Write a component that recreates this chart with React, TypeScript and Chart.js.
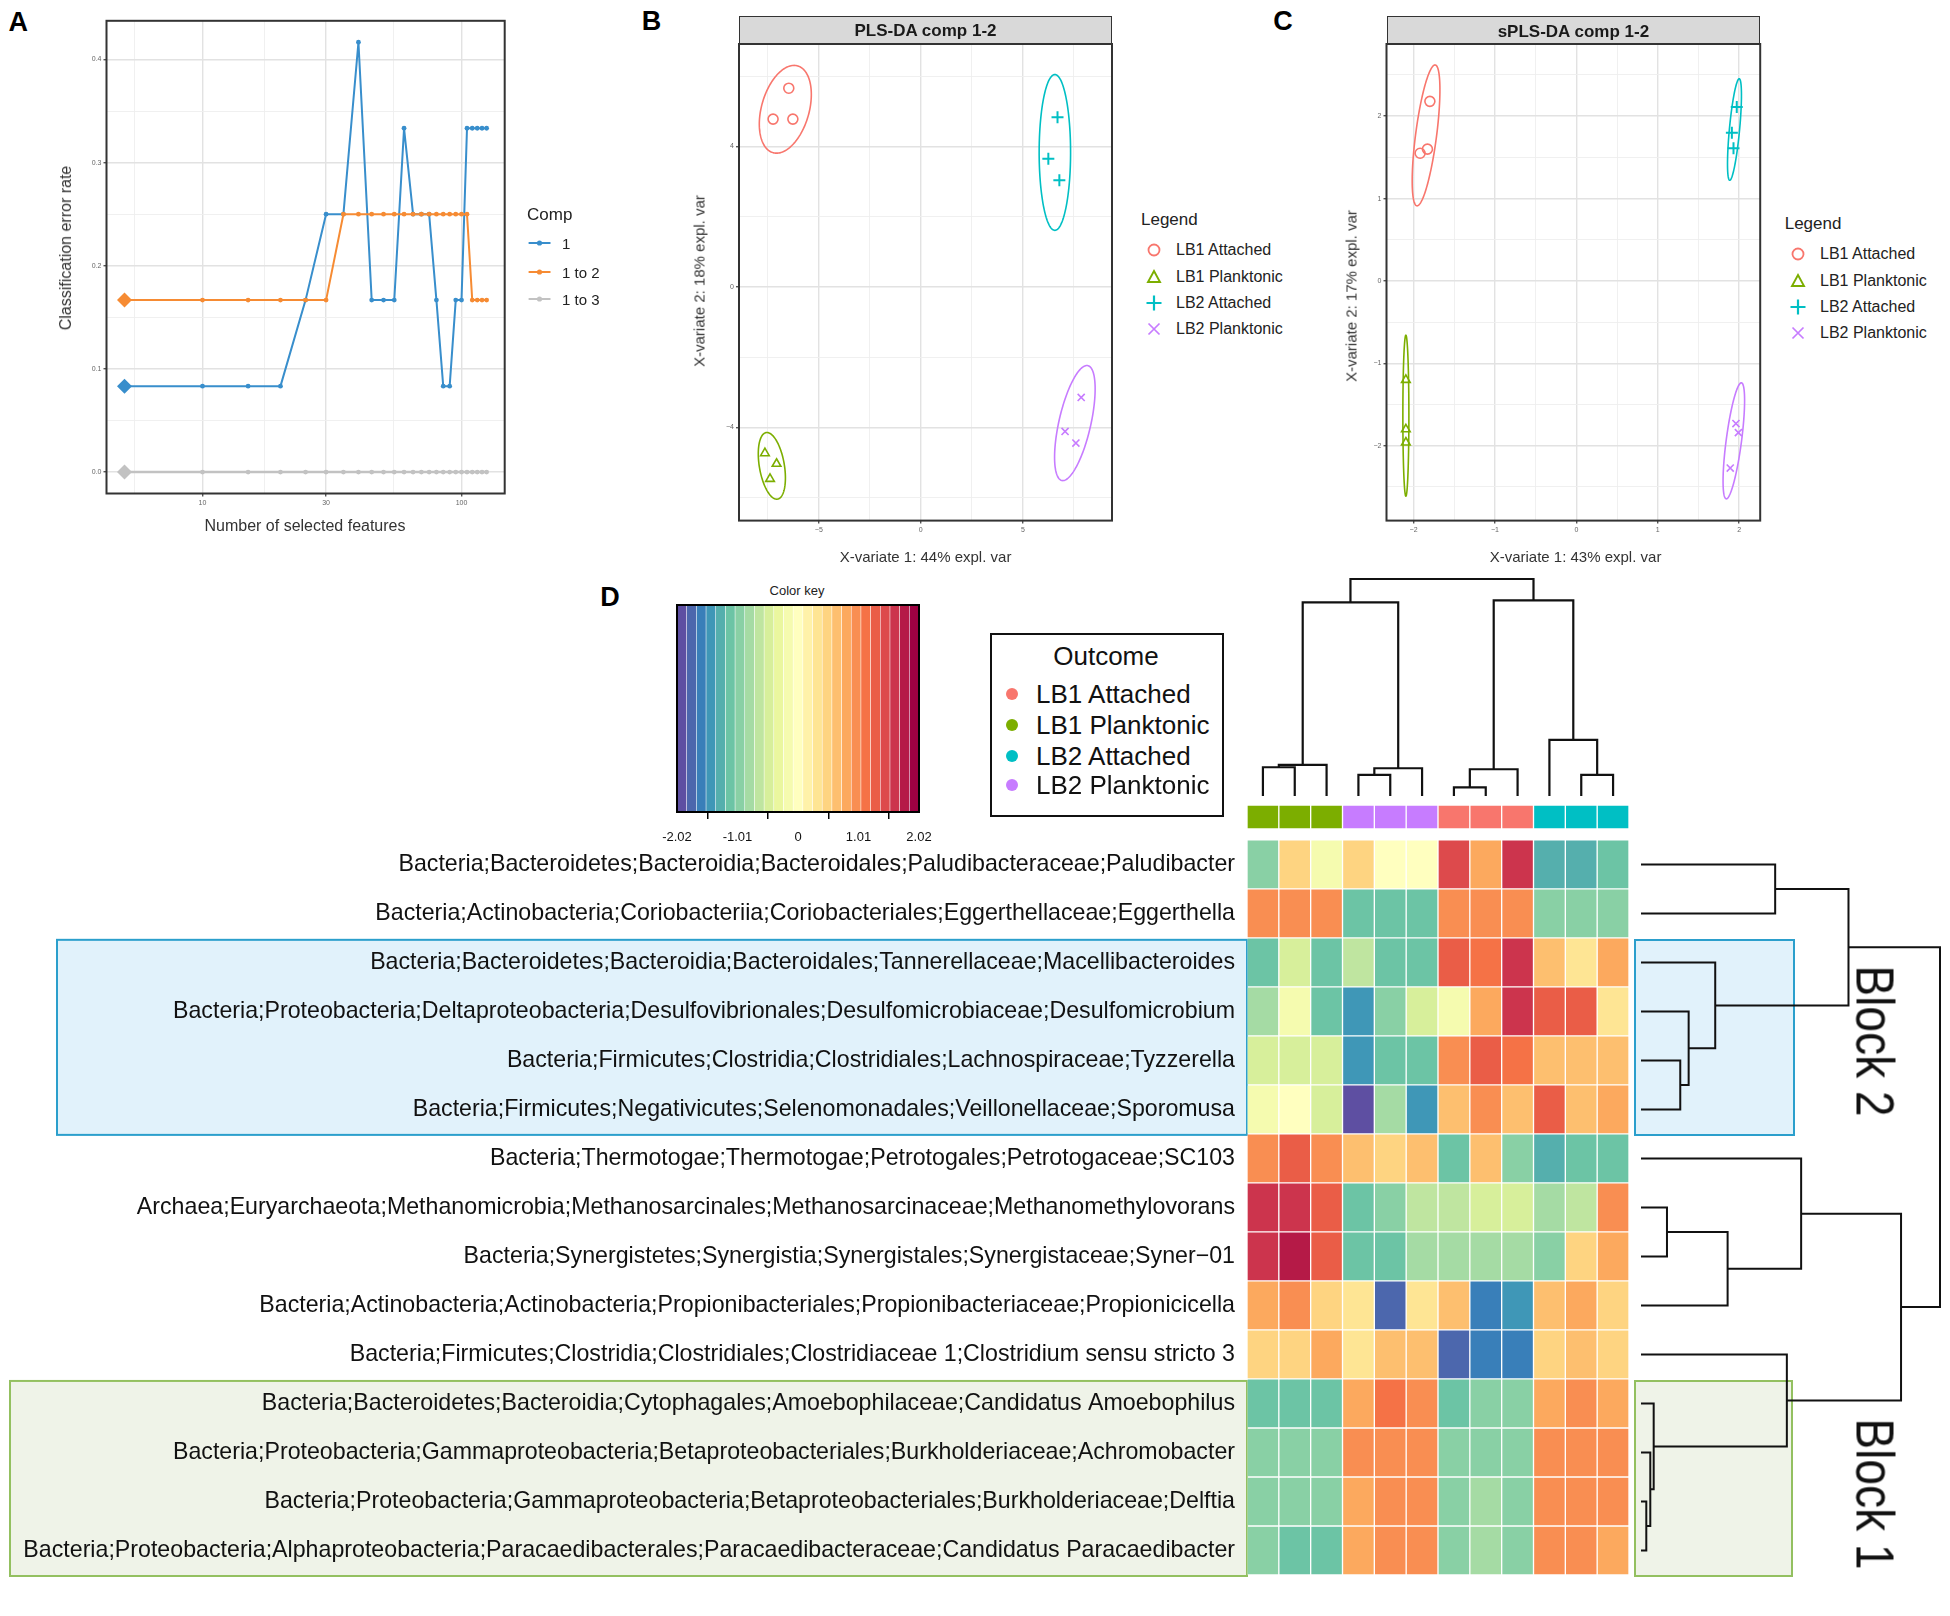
import React, { useEffect, useRef } from 'react';
import { Chart, registerables } from 'chart.js';
Chart.register(...registerables);

const FONT = '"Liberation Sans", Arial, Helvetica, sans-serif';

// ---------------- Panel A data ----------------
const keepX = [5, 10, 15, 20, 25, 30, 35, 40, 45, 50, 55, 60, 65, 70, 75, 80, 85, 90, 95, 100, 105, 110, 115, 120, 125];
const errorComp1 = [0.0833, 0.0833, 0.0833, 0.0833, 0.1667, 0.25, 0.25, 0.4167, 0.1667, 0.1667, 0.1667, 0.3333, 0.25, 0.25, 0.25, 0.1667, 0.0833, 0.0833, 0.1667, 0.1667, 0.3333, 0.3333, 0.3333, 0.3333, 0.3333];
const errorComp1to2 = [0.1667, 0.1667, 0.1667, 0.1667, 0.1667, 0.1667, 0.25, 0.25, 0.25, 0.25, 0.25, 0.25, 0.25, 0.25, 0.25, 0.25, 0.25, 0.25, 0.25, 0.25, 0.25, 0.1667, 0.1667, 0.1667, 0.1667];
const errorComp1to3 = [0, 0, 0, 0, 0, 0, 0, 0, 0, 0, 0, 0, 0, 0, 0, 0, 0, 0, 0, 0, 0, 0, 0, 0, 0];
const optimalKeepX = [5, 5, 5];
const compLabels = ['1', '1 to 2', '1 to 3'];
const compColors = ['#388ECC', '#F68B33', '#C2C2C2'];
const aXMajor = [10, 30, 100];
const aXMinor = [5.477, 17.32, 54.77];
const aYMajor = [0, 0.1, 0.2, 0.3, 0.4];
const aYMinor = [0.05, 0.15, 0.25, 0.35];
const aXLimits = [4.26, 146.8];
const aYLimits = [-0.0208, 0.4375];

// ---------------- Panels B / C data ----------------
const groups = ['LB1 Attached', 'LB1 Planktonic', 'LB2 Attached', 'LB2 Planktonic'];
const groupColors = ['#F8766D', '#7CAE00', '#00BFC4', '#C77CFF'];
const groupShapes = ['circle', 'triangle', 'cross', 'crossRot'];

const plsX = [[-6.47, -7.24, -6.27], [-7.64, -7.07, -7.39], [6.70, 6.25, 6.79], [7.86, 7.07, 7.60]];
const plsY = [[5.66, 4.78, 4.78], [-4.74, -5.04, -5.47], [4.83, 3.65, 3.04], [-3.15, -4.12, -4.45]];
// ellipse: centre x, centre y, major half-vector x, y, horizontal half-width
const plsEllipses = [[-6.64, 5.06, 0.43, 1.25, 1.2], [-7.3, -5.1, -0.24, 0.95, 0.62], [6.57, 3.83, 0, 2.22, 0.77], [7.55, -3.88, 0.59, 1.64, 0.8]];
const plsXLimits = [-8.91, 9.37];
const plsYLimits = [-6.66, 6.92];
const plsXMajor = [-5, 0, 5];
const plsXMinor = [-7.5, -2.5, 2.5, 7.5];
const plsYMajor = [-4, 0, 4];
const plsYMinor = [-6, -2, 2, 6];

const splsX = [[-1.80, -1.92, -1.83], [-2.095, -2.095, -2.095], [1.97, 1.91, 1.93], [1.96, 1.99, 1.89]];
const splsY = [[2.18, 1.55, 1.60], [-1.20, -1.80, -1.96], [2.11, 1.80, 1.61], [-1.73, -1.84, -2.27]];
const splsEllipses = [[-1.847, 1.767, 0.11, 0.855, 0.13], [-2.095, -1.635, 0, 0.977, 0.037], [1.942, 1.838, 0.058, 0.616, 0.063], [1.934, -1.94, 0.092, 0.704, 0.095]];
const splsXLimits = [-2.333, 2.258];
const splsYLimits = [-2.908, 2.876];
const splsXMajor = [-2, -1, 0, 1, 2];
const splsXMinor = [-1.5, -0.5, 0.5, 1.5];
const splsYMajor = [-2, -1, 0, 1, 2];
const splsYMinor = [-2.5, -1.5, -0.5, 0.5, 1.5, 2.5];

// ---------------- Panel D data ----------------
const rowLabels = [
  'Bacteria;Bacteroidetes;Bacteroidia;Bacteroidales;Paludibacteraceae;Paludibacter',
  'Bacteria;Actinobacteria;Coriobacteriia;Coriobacteriales;Eggerthellaceae;Eggerthella',
  'Bacteria;Bacteroidetes;Bacteroidia;Bacteroidales;Tannerellaceae;Macellibacteroides',
  'Bacteria;Proteobacteria;Deltaproteobacteria;Desulfovibrionales;Desulfomicrobiaceae;Desulfomicrobium',
  'Bacteria;Firmicutes;Clostridia;Clostridiales;Lachnospiraceae;Tyzzerella',
  'Bacteria;Firmicutes;Negativicutes;Selenomonadales;Veillonellaceae;Sporomusa',
  'Bacteria;Thermotogae;Thermotogae;Petrotogales;Petrotogaceae;SC103',
  'Archaea;Euryarchaeota;Methanomicrobia;Methanosarcinales;Methanosarcinaceae;Methanomethylovorans',
  'Bacteria;Synergistetes;Synergistia;Synergistales;Synergistaceae;Syner\u221201',
  'Bacteria;Actinobacteria;Actinobacteria;Propionibacteriales;Propionibacteriaceae;Propionicicella',
  'Bacteria;Firmicutes;Clostridia;Clostridiales;Clostridiaceae 1;Clostridium sensu stricto 3',
  'Bacteria;Bacteroidetes;Bacteroidia;Cytophagales;Amoebophilaceae;Candidatus Amoebophilus',
  'Bacteria;Proteobacteria;Gammaproteobacteria;Betaproteobacteriales;Burkholderiaceae;Achromobacter',
  'Bacteria;Proteobacteria;Gammaproteobacteria;Betaproteobacteriales;Burkholderiaceae;Delftia',
  'Bacteria;Proteobacteria;Alphaproteobacteria;Paracaedibacterales;Paracaedibacteraceae;Candidatus Paracaedibacter',
];
const sampleNames = ['LB1P_1', 'LB1P_2', 'LB1P_3', 'LB2P_1', 'LB2P_2', 'LB2P_3', 'LB1A_1', 'LB1A_2', 'LB1A_3', 'LB2A_1', 'LB2A_2', 'LB2A_3'];
const sampleGroup = [1, 1, 1, 3, 3, 3, 0, 0, 0, 2, 2, 2];
const heatValues = [
  [-1.0, 0.45, -0.15, 0.5, 0.05, 0.05, 1.45, 0.75, 1.62, -1.3, -1.3, -1.15],
  [1.05, 1.05, 1.05, -1.1, -1.1, -1.1, 1.0, 1.0, 1.0, -1.05, -1.05, -1.05],
  [-1.15, -0.5, -1.1, -0.65, -1.2, -1.2, 1.35, 1.2, 1.58, 0.7, 0.25, 0.85],
  [-0.75, -0.2, -1.15, -1.45, -1.0, -0.45, -0.1, 0.85, 1.58, 1.25, 1.25, 0.4],
  [-0.5, -0.5, -0.5, -1.45, -1.2, -1.18, 1.0, 1.35, 1.2, 0.72, 0.72, 0.72],
  [-0.18, 0.0, -0.48, -1.98, -0.85, -1.5, 0.7, 1.02, 0.68, 1.22, 0.72, 0.82],
  [1.0, 1.24, 0.98, 0.68, 0.55, 0.7, -1.18, 0.65, -1.05, -1.3, -1.2, -1.2],
  [1.55, 1.68, 1.35, -1.1, -0.9, -0.72, -0.7, -0.52, -0.55, -0.78, -0.72, 1.0],
  [1.6, 1.7, 1.22, -1.1, -1.1, -0.88, -0.88, -0.78, -0.78, -0.9, 0.52, 0.85],
  [0.85, 1.0, 0.5, 0.38, -1.75, 0.4, 0.6, -1.65, -1.5, 0.62, 0.78, 0.55],
  [0.5, 0.5, 0.75, 0.35, 0.7, 0.72, -1.85, -1.68, -1.68, 0.55, 0.6, 0.48],
  [-1.2, -1.2, -1.2, 0.88, 1.2, 1.0, -1.1, -0.92, -0.98, 0.82, 1.0, 0.85],
  [-1.05, -1.05, -1.05, 1.0, 0.98, 1.0, -1.05, -1.05, -0.95, 1.0, 1.0, 1.0],
  [-1.0, -1.0, -1.0, 0.88, 0.98, 1.0, -1.05, -0.88, -0.92, 1.0, 1.0, 1.0],
  [-0.98, -1.2, -1.2, 0.85, 1.0, 0.98, -1.05, -0.86, -0.95, 1.0, 1.0, 0.8],
];
// hclust-like merges: negative = leaf (display order, 1-based), positive = earlier merge
const colMerges = [
  [-1, -2, 2.87], [1, -3, 3.10], [-4, -5, 2.10], [3, -6, 2.77], [2, 4, 19.33],
  [-7, -8, 0.87], [6, -9, 2.67], [-11, -12, 2.10], [-10, 8, 5.60], [7, 9, 19.53], [5, 10, 21.67],
];
const rowMerges = [
  [-1, -2, 13.43], [-5, -6, 3.93], [-4, 2, 4.77], [-3, 3, 7.43], [1, 4, 20.77],
  [-8, -9, 2.60], [6, -10, 8.67], [-7, 7, 16.03],
  [-14, -15, 0.53], [-13, 9, 0.93], [-12, 10, 1.27], [-11, 11, 14.60],
  [8, 12, 26.03], [5, 13, 29.93],
];
const blockNames = ['Block 2', 'Block 1'];
const blockRows = [[3, 6], [12, 15]];
const keyRange = [-2.02, 2.02];
const keyTicks = [-2.02, -1.01, 0, 1.01, 2.02];
const keyBins = 25;
const spectral = ['#5E4FA2', '#3288BD', '#66C2A5', '#ABDDA4', '#E6F598', '#FFFFBF', '#FEE08B', '#FDAE61', '#F46D43', '#D53E4F', '#9E0142'];

// ---------------- helpers ----------------
function hex(c: string) { return [1, 3, 5].map(i => parseInt(c.slice(i, i + 2), 16)); }
function ramp(t: number) {
  const p = Math.max(0, Math.min(1, t)) * (spectral.length - 1);
  const i = Math.min(spectral.length - 2, Math.floor(p));
  const f = p - i;
  const a = hex(spectral[i]), b = hex(spectral[i + 1]);
  const m = a.map((v, k) => Math.round(v + (b[k] - v) * f));
  return `rgb(${m[0]},${m[1]},${m[2]})`;
}
const keyColors = Array.from({ length: keyBins }, (_, i) => ramp(i / (keyBins - 1)));
function colorFor(v: number) {
  let b = Math.floor(((v - keyRange[0]) / (keyRange[1] - keyRange[0])) * keyBins);
  b = Math.max(0, Math.min(keyBins - 1, b));
  return keyColors[b];
}
const isIn = (arr: number[], v: any) => typeof v === 'number' && arr.some(a => Math.abs(a - v) < 1e-6);
const zeroPad = (s: any) => { s.paddingTop = 0; s.paddingBottom = 0; s.paddingLeft = 0; s.paddingRight = 0; };

function ggScale(type: string, lim: number[], major: number[], minor: number[], fit: { w?: number; h?: number }, fmt: (v: number) => string) {
  return {
    type, min: lim[0], max: lim[1],
    afterBuildTicks: (s: any) => { s.ticks = [...minor, ...major].sort((a, b) => a - b).map(v => ({ value: v })); },
    afterFit: (s: any) => { if (fit.w !== undefined) s.width = fit.w; if (fit.h !== undefined) s.height = fit.h; zeroPad(s); },
    ticks: {
      autoSkip: false, maxRotation: 0, minRotation: 0, padding: 2, color: '#666',
      font: { family: FONT, size: 7 },
      callback: (v: any) => (isIn(major, Number(v)) ? fmt(Number(v)) : ''),
    },
    grid: {
      drawTicks: true, tickLength: 3,
      color: (c: any) => (isIn(major, c.tick && c.tick.value) ? '#e2e2e2' : '#eeeeee'),
      lineWidth: (c: any) => (isIn(major, c.tick && c.tick.value) ? 1.4 : 0.9),
      tickColor: (c: any) => (isIn(major, c.tick && c.tick.value) ? '#555' : 'rgba(0,0,0,0)'),
    },
    border: { display: false },
  };
}

const framePlugin = {
  id: 'frame',
  afterDraw(chart: any, _a: any, opts: any) {
    if (!opts || !opts.color) return;
    const { ctx, chartArea: a } = chart;
    ctx.save();
    ctx.strokeStyle = opts.color; ctx.lineWidth = opts.width || 1;
    ctx.strokeRect(a.left, a.top, a.right - a.left, a.bottom - a.top);
    ctx.restore();
  },
};

const ellipsePlugin = {
  id: 'ellipses',
  beforeDatasetsDraw(chart: any, _a: any, opts: any) {
    const list = opts && opts.items; if (!list) return;
    const { ctx } = chart; const x = chart.scales.x, y = chart.scales.y;
    ctx.save();
    list.forEach((e: any) => {
      ctx.beginPath();
      for (let k = 0; k <= 160; k++) {
        const t = (k / 160) * Math.PI * 2;
        const dx = e.v[0] + e.v[2] * Math.cos(t) + e.v[4] * Math.sin(t);
        const dy = e.v[1] + e.v[3] * Math.cos(t);
        const px = x.getPixelForValue(dx), py = y.getPixelForValue(dy);
        if (k === 0) ctx.moveTo(px, py); else ctx.lineTo(px, py);
      }
      ctx.closePath(); ctx.strokeStyle = e.color; ctx.lineWidth = 1.6; ctx.stroke();
    });
    ctx.restore();
  },
};

const blockPlugin = {
  id: 'blocks',
  beforeDraw(chart: any, _a: any, opts: any) {
    const list = opts && opts.items; if (!list) return;
    const { ctx } = chart; const y = chart.scales.y;
    ctx.save();
    list.forEach((b: any) => {
      const top = y.getPixelForValue(b.rows[0] - 1) + 2;
      const bot = y.getPixelForValue(b.rows[1]) + 1;
      ctx.fillStyle = b.fill; ctx.fillRect(b.x0, top, b.x1 - b.x0, bot - top);
      ctx.strokeStyle = b.stroke; ctx.lineWidth = 2; ctx.strokeRect(b.x0, top, b.x1 - b.x0, bot - top);
    });
    ctx.restore();
  },
};

function dendroPaths(merges: number[][]) {
  const pos: number[] = [], hgt: number[] = [];
  const get = (id: number) => (id < 0 ? [-id - 1, 0] : [pos[id - 1], hgt[id - 1]]);
  return merges.map(([a, b, h], k) => {
    const [pa, ha] = get(a), [pb, hb] = get(b);
    pos[k] = (pa + pb) / 2; hgt[k] = h;
    return [[pa, ha], [pa, h], [pb, h], [pb, hb]];
  });
}

const BLOCK_STYLE = [
  { fill: '#e1f2fb', stroke: '#2b9fcc' },
  { fill: '#eff3e8', stroke: '#93c060' },
];

type TP = { x: number; y: number; s: number; text: string; bold?: boolean; rot?: number; left?: boolean; color?: string; sx?: number };
function T(p: TP) {
  return (
    <div style={{
      position: 'absolute', left: p.x, top: p.y, fontFamily: FONT, fontSize: p.s,
      fontWeight: p.bold ? 'bold' : 'normal', color: p.color || '#111', whiteSpace: 'nowrap', lineHeight: 1,
      transform: `translate(${p.left ? '0' : '-50%'},-50%) rotate(${p.rot || 0}deg) scaleX(${p.sx || 1})`,
      transformOrigin: p.left ? '0 50%' : '50% 50%',
    }}>{p.text}</div>
  );
}

function Marker({ shape, color, x, y }: { shape: string; color: string; x: number; y: number }) {
  const s = 16;
  return (
    <svg style={{ position: 'absolute', left: x - s / 2, top: y - s / 2 }} width={s} height={s}>
      {shape === 'circle' && <circle cx={8} cy={8} r={5.5} fill="none" stroke={color} strokeWidth={1.8} />}
      {shape === 'triangle' && <polygon points="8,2 14,13 2,13" fill="none" stroke={color} strokeWidth={1.9} />}
      {shape === 'cross' && <path d="M8 0.5 V15.5 M0.5 8 H15.5" stroke={color} strokeWidth={2.2} />}
      {shape === 'crossRot' && <path d="M2.5 2.5 L13.5 13.5 M13.5 2.5 L2.5 13.5" stroke={color} strokeWidth={1.7} />}
    </svg>
  );
}

const BOXES: Record<string, number[]> = {
  a: [40, 0, 490, 560],
  b: [700, 30, 430, 530],
  c: [1350, 30, 430, 530],
  key: [660, 600, 280, 260],
  colD: [1240, 570, 400, 235],
  heat: [0, 790, 1640, 800],
  rowD: [1630, 830, 320, 760],
};

export default function App() {
  const refs: Record<string, React.RefObject<HTMLCanvasElement>> = {
    a: useRef<HTMLCanvasElement>(null), b: useRef<HTMLCanvasElement>(null), c: useRef<HTMLCanvasElement>(null),
    key: useRef<HTMLCanvasElement>(null), colD: useRef<HTMLCanvasElement>(null), heat: useRef<HTMLCanvasElement>(null),
    rowD: useRef<HTMLCanvasElement>(null),
  };

  useEffect(() => {
    const charts: Chart[] = [];
    const base = { responsive: false, animation: false as const, events: [] as any[] };
    const noPlug = { legend: { display: false }, tooltip: { enabled: false } };

    // ---------- Panel A ----------
    const aSeries = [errorComp1, errorComp1to2, errorComp1to3];
    charts.push(new Chart(refs.a.current!, {
      type: 'scatter',
      data: {
        datasets: aSeries.map((vals, k) => ({
          label: compLabels[k],
          data: keepX.map((x, i) => ({ x, y: vals[i] })),
          showLine: true, borderColor: compColors[k], backgroundColor: compColors[k],
          borderWidth: k === 2 ? 2.4 : 2, pointBorderWidth: 0,
          pointStyle: (c: any) => (keepX[c.dataIndex] === optimalKeepX[k] ? 'rectRot' : 'circle'),
          pointRadius: (c: any) => (keepX[c.dataIndex] === optimalKeepX[k] ? 7.5 : 2.4),
          order: k === 0 ? 1 : k === 1 ? 0 : 2, clip: false,
        })),
      } as any,
      options: {
        ...base,
        layout: { padding: { top: 20.8, right: 25.3, left: 0, bottom: 0 } },
        plugins: { ...noPlug, frame: { color: '#333', width: 2 } } as any,
        scales: {
          x: ggScale('logarithmic', aXLimits, aXMajor, aXMinor, { h: 66.5 }, v => String(Math.round(v))) as any,
          y: ggScale('linear', aYLimits, aYMajor, aYMinor, { w: 66.5 }, v => v.toFixed(1)) as any,
        },
      },
      plugins: [framePlugin],
    }));

    // ---------- Panels B & C ----------
    const scatterCfg = (xs: number[][], ys: number[][], ells: number[][], xl: number[], yl: number[], xM: number[], xm: number[], yM: number[], ym: number[], yw: number, pr: number) => ({
      type: 'scatter',
      data: {
        datasets: groups.map((g, i) => ({
          label: g, data: xs[i].map((x, j) => ({ x, y: ys[i][j] })),
          pointStyle: groupShapes[i], pointRadius: i === 2 ? 6 : 5, pointBorderWidth: i === 2 ? 2 : 1.6,
          borderColor: groupColors[i], backgroundColor: 'rgba(0,0,0,0)', showLine: false,
        })),
      },
      options: {
        ...base,
        layout: { padding: { top: 14, right: pr, left: 0, bottom: 0 } },
        plugins: { ...noPlug, frame: { color: '#333', width: 2 }, ellipses: { items: ells.map((v, i) => ({ v, color: groupColors[i] })) } },
        scales: {
          x: ggScale('linear', xl, xM, xm, { h: 39.4 }, v => (v < 0 ? '\u2212' + Math.abs(v) : String(v))),
          y: ggScale('linear', yl, yM, ym, { w: yw }, v => (v < 0 ? '\u2212' + Math.abs(v) : String(v))),
        },
      },
      plugins: [framePlugin, ellipsePlugin],
    });
    charts.push(new Chart(refs.b.current!, scatterCfg(plsX, plsY, plsEllipses, plsXLimits, plsYLimits, plsXMajor, plsXMinor, plsYMajor, plsYMinor, 39, 18) as any));
    charts.push(new Chart(refs.c.current!, scatterCfg(splsX, splsY, splsEllipses, splsXLimits, splsYLimits, splsXMajor, splsXMinor, splsYMajor, splsYMinor, 36.5, 19.8) as any));

    // ---------- Colour key ----------
    const binW = (keyRange[1] - keyRange[0]) / keyBins;
    charts.push(new Chart(refs.key.current!, {
      type: 'bar',
      data: {
        datasets: [{
          data: keyColors.map((_, i) => ({ x: keyRange[0] + (i + 0.5) * binW, y: 1 })),
          backgroundColor: keyColors, barPercentage: 1, categoryPercentage: 1,
          borderColor: 'rgba(255,255,255,0.28)', borderWidth: { left: 0.6, right: 0.6, top: 0, bottom: 0 }, borderSkipped: false,
        }],
      } as any,
      options: {
        ...base,
        layout: { padding: { top: 5, left: 17, right: 21, bottom: 0 } },
        plugins: { ...noPlug, frame: { color: '#000', width: 2 } } as any,
        scales: {
          x: {
            type: 'linear', min: keyRange[0], max: keyRange[1], offset: false,
            afterBuildTicks: (s: any) => { s.ticks = keyTicks.map(v => ({ value: v })); },
            afterFit: (s: any) => { s.height = 48; zeroPad(s); },
            ticks: { autoSkip: false, maxRotation: 0, padding: 11, color: '#111', font: { family: FONT, size: 13 }, callback: (v: any) => (Number(v) === 0 ? '0' : Number(v).toFixed(2)) },
            grid: { drawOnChartArea: false, drawTicks: true, tickLength: 7, color: '#000', lineWidth: 1.5 },
            border: { display: true, color: '#000', width: 1.5 },
          },
          y: { display: false, min: 0, max: 1 },
        },
      },
      plugins: [framePlugin],
    }));

    // ---------- Column dendrogram ----------
    charts.push(new Chart(refs.colD.current!, {
      type: 'scatter',
      data: {
        datasets: dendroPaths(colMerges).map(path => ({
          data: path.map(([p, h]) => ({ x: p, y: h })), showLine: true, borderColor: '#111', borderWidth: 2.2,
          pointRadius: 0, clip: false,
        })),
      } as any,
      options: {
        ...base,
        layout: { padding: { top: 9, left: 7, right: 11, bottom: 9 } },
        plugins: noPlug as any,
        scales: { x: { display: false, min: -0.5, max: 11.5 }, y: { display: false, min: 0, max: colMerges[colMerges.length - 1][2] } },
      },
    }));

    // ---------- Heatmap + colour bar + row labels ----------
    const barBase = { barPercentage: 1, categoryPercentage: 1, grouped: false, borderSkipped: false, borderColor: 'rgba(255,255,255,0.3)', borderWidth: 1 };
    charts.push(new Chart(refs.heat.current!, {
      type: 'bar',
      data: {
        labels: sampleNames,
        datasets: [
          { ...barBase, data: sampleNames.map(() => [-0.71, -0.22]), backgroundColor: sampleGroup.map(g => groupColors[g]) },
          ...heatValues.map((row, r) => ({ ...barBase, label: rowLabels[r], data: row.map(() => [r, r + 1]), backgroundColor: row.map(colorFor) })),
        ],
      } as any,
      options: {
        ...base,
        layout: { padding: { top: 15, right: 11, left: 0, bottom: 15 } },
        plugins: {
          ...noPlug,
          blocks: {
            items: [
              { rows: blockRows[0], x0: 57, x1: 1247, ...BLOCK_STYLE[0] },
              { rows: blockRows[1], x0: 10, x1: 1247, ...BLOCK_STYLE[1] },
            ],
          },
        } as any,
        scales: {
          x: { display: false, type: 'category' },
          y: {
            type: 'linear', reverse: true, min: -0.71, max: rowLabels.length,
            afterBuildTicks: (s: any) => { s.ticks = rowLabels.map((_, i) => ({ value: i + 0.5 })); },
            afterFit: (s: any) => { s.width = 1247; zeroPad(s); },
            ticks: { autoSkip: false, padding: 12, color: '#111', font: { family: FONT, size: 23.2 }, callback: (v: any) => rowLabels[Math.floor(Number(v))] },
            grid: { display: false, drawTicks: false },
            border: { display: false },
          },
        },
      },
      plugins: [blockPlugin],
    }));

    // ---------- Row dendrogram ----------
    charts.push(new Chart(refs.rowD.current!, {
      type: 'scatter',
      data: {
        datasets: dendroPaths(rowMerges).map(path => ({
          data: path.map(([p, h]) => ({ x: h, y: p + 0.5 })), showLine: true, borderColor: '#111', borderWidth: 2,
          pointRadius: 0, clip: false,
        })),
      } as any,
      options: {
        ...base,
        layout: { padding: { top: 10, left: 11, right: 10, bottom: 15 } },
        plugins: {
          ...noPlug,
          blocks: {
            items: [
              { rows: blockRows[0], x0: 5, x1: 164, ...BLOCK_STYLE[0] },
              { rows: blockRows[1], x0: 5, x1: 162, ...BLOCK_STYLE[1] },
            ],
          },
        } as any,
        scales: { x: { display: false, min: 0, max: rowMerges[rowMerges.length - 1][2] }, y: { display: false, reverse: true, min: 0, max: rowLabels.length } },
      },
      plugins: [blockPlugin],
    }));

    return () => charts.forEach(c => c.destroy());
  }, []);

  const canv = (k: string) => {
    const [l, t, w, h] = BOXES[k];
    return <canvas key={k} ref={refs[k]} width={w} height={h} style={{ position: 'absolute', left: l, top: t, width: w, height: h }} />;
  };

  const aLegendY = [243.4, 271.7, 299];
  const bLegendY = [250.3, 276.6, 302.5, 328.8];
  const cLegendY = [254, 280.6, 306.9, 333.2];
  const outY = [694, 725, 756, 785];

  return (
    <div style={{ position: 'absolute', left: 0, top: 0, width: 1950, height: 1616, background: '#fff', overflow: 'hidden' }}>
      {/* strips */}
      <div style={{ position: 'absolute', left: 739, top: 16.4, width: 373, height: 28, boxSizing: 'border-box', background: '#d9d9d9', border: '1.6px solid #333' }} />
      <div style={{ position: 'absolute', left: 1386.5, top: 16.4, width: 373.7, height: 28.6, boxSizing: 'border-box', background: '#d9d9d9', border: '1.6px solid #333' }} />
      {/* outcome legend box */}
      <div style={{ position: 'absolute', left: 990, top: 633, width: 234, height: 184, boxSizing: 'border-box', border: '2px solid #111' }} />

      {['a', 'b', 'c', 'key', 'colD', 'heat', 'rowD'].map(canv)}

      {/* panel letters */}
      <T x={18.3} y={22} s={27} bold text="A" color="#000" />
      <T x={651.6} y={21} s={27} bold text="B" color="#000" />
      <T x={1283} y={21} s={27} bold text="C" color="#000" />
      <T x={610} y={597} s={27} bold text="D" color="#000" />

      {/* Panel A texts */}
      <T x={65.6} y={247.5} s={16} rot={-90} text="Classification error rate" color="#333" />
      <T x={305} y={525.8} s={16} text="Number of selected features" color="#333" />
      <T x={527} y={213.6} s={17} left text="Comp" color="#222" />
      {compLabels.map((l, i) => (
        <React.Fragment key={l}>
          <svg style={{ position: 'absolute', left: 527, top: aLegendY[i] - 6 }} width={26} height={12}>
            <line x1={1.6} y1={6} x2={23.5} y2={6} stroke={compColors[i]} strokeWidth={2} />
            <circle cx={12.5} cy={6} r={2.6} fill={compColors[i]} />
          </svg>
          <T x={562} y={aLegendY[i]} s={15} left text={l} color="#222" />
        </React.Fragment>
      ))}

      {/* Panel B texts */}
      <T x={925.5} y={30.4} s={17} bold text="PLS-DA comp 1-2" color="#1a1a1a" />
      <T x={698.5} y={281} s={15} rot={-90} text="X-variate 2: 18% expl. var" color="#333" />
      <T x={925.5} y={556} s={15} text="X-variate 1: 44% expl. var" color="#333" />
      <T x={1141} y={219} s={17} left text="Legend" color="#222" />
      {groups.map((g, i) => (
        <React.Fragment key={'b' + g}>
          <Marker shape={groupShapes[i]} color={groupColors[i]} x={1154} y={bLegendY[i]} />
          <T x={1176} y={bLegendY[i]} s={16} left text={g} color="#222" />
        </React.Fragment>
      ))}

      {/* Panel C texts */}
      <T x={1573.4} y={30.7} s={17} bold text="sPLS-DA comp 1-2" color="#1a1a1a" />
      <T x={1351} y={296} s={15} rot={-90} text="X-variate 2: 17% expl. var" color="#333" />
      <T x={1575.5} y={556} s={15} text="X-variate 1: 43% expl. var" color="#333" />
      <T x={1784.7} y={222.9} s={17} left text="Legend" color="#222" />
      {groups.map((g, i) => (
        <React.Fragment key={'c' + g}>
          <Marker shape={groupShapes[i]} color={groupColors[i]} x={1797.6} y={cLegendY[i]} />
          <T x={1820} y={cLegendY[i]} s={16} left text={g} color="#222" />
        </React.Fragment>
      ))}

      {/* Panel D texts */}
      <T x={797} y={590} s={13} text="Color key" color="#222" />
      <T x={1106} y={656} s={26} text="Outcome" color="#111" />
      {groups.map((g, i) => (
        <React.Fragment key={'o' + g}>
          <div style={{ position: 'absolute', left: 1006, top: outY[i] - 6, width: 12, height: 12, borderRadius: 6, background: groupColors[i] }} />
          <T x={1036} y={outY[i]} s={26} left text={g} color="#111" />
        </React.Fragment>
      ))}
      <T x={1875} y={1041} s={53} rot={90} sx={0.87} text={blockNames[0]} color="#111" />
      <T x={1875} y={1494} s={53} rot={90} sx={0.87} text={blockNames[1]} color="#111" />
    </div>
  );
}
